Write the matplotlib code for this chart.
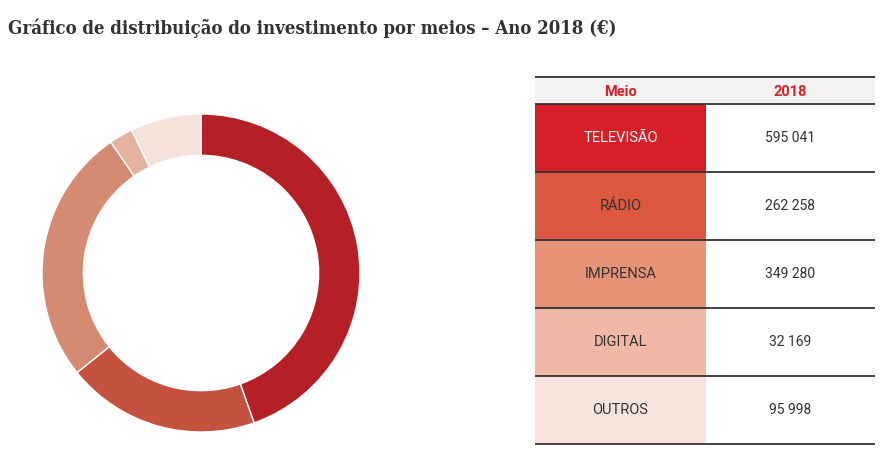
import matplotlib.pyplot as plt
from matplotlib.patches import Rectangle

# dados
meios = ['TELEVISÃO', 'RÁDIO', 'IMPRENSA', 'DIGITAL', 'OUTROS']
valores = [595041, 262258, 349280, 32169, 95998]
rotulos = ['595 041', '262 258', '349 280', '32 169', '95 998']
cores_anel = ['#b51f26', '#c4523e', '#d48a73', '#e5b2a0', '#f5e3db']
cores_tabela = ['#d61f26', '#dc5841', '#e89278', '#f0b8a5', '#f8e4dc']
cor_texto = ['white', '#333333', '#333333', '#333333', '#333333']

W, H = 895, 471
fig = plt.figure(figsize=(W / 100, H / 100), dpi=100)

fig.text(8 / W, 1 - 28 / H, 'Gráfico de distribuição do investimento por meios – Ano 2018 (€)',
         family='DejaVu Serif', stretch='condensed', weight='bold', fontsize=13.3,
         color='#333333', va='center')

# donut
cx, cy, r = 201, 273, 159
ax = fig.add_axes([(cx - r) / W, (H - cy - r) / H, 2 * r / W, 2 * r / H])
ax.pie(valores, colors=cores_anel, startangle=90, counterclock=False,
       wedgeprops=dict(width=0.26, edgecolor='white', linewidth=1))
ax.set_xlim(-1, 1)
ax.set_ylim(-1, 1)
ax.set_aspect('equal')

# tabela
tb = fig.add_axes([0, 0, 1, 1])
tb.set_xlim(0, W)
tb.set_ylim(H, 0)
tb.axis('off')

x0, xm, x1 = 535, 706, 875
top, head_bot, row_h = 77, 104, 68

tb.add_patch(Rectangle((x0, top), x1 - x0, head_bot - top, color='#f1f2f1', lw=0))
for txt, xc in [('Meio', (x0 + xm) / 2), ('2018', (xm + x1) / 2)]:
    tb.text(xc, (top + head_bot) / 2 + 1, txt, ha='center', va='center', color='#d61f26',
            weight='bold', fontsize=10.5, family='Roboto')

for i, (m, v) in enumerate(zip(meios, rotulos)):
    y = head_bot + i * row_h
    tb.add_patch(Rectangle((x0, y), xm - x0, row_h, color=cores_tabela[i], lw=0))
    tb.text((x0 + xm) / 2, y + row_h / 2, m, ha='center', va='center', color=cor_texto[i],
            fontsize=10.5, family='Roboto')
    tb.text((xm + x1) / 2, y + row_h / 2, v, ha='center', va='center', color='#333333',
            fontsize=10, family='Roboto')

for y in [top, head_bot] + [head_bot + (i + 1) * row_h for i in range(len(meios))]:
    tb.plot([x0, x1], [y, y], color='#333333', lw=1.3, solid_capstyle='butt')

fig.savefig('out.png', dpi=100)
